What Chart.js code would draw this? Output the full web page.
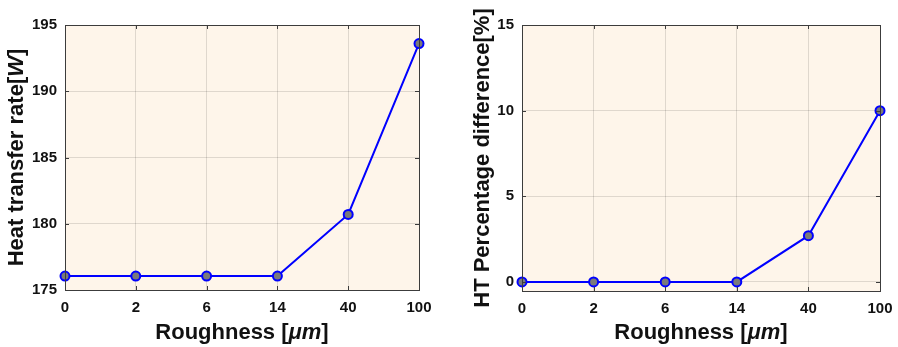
<!DOCTYPE html>
<html>
<head>
<meta charset="utf-8">
<script src="https://cdn.jsdelivr.net/npm/chart.js@4"></script>
<style>
  body { margin: 0; background: #fff; }
  .panel { position: absolute; top: 0; width: 449px; height: 347px; }
  #left { left: 0; }
  #right { left: 449px; }
</style>
</head>
<body>
<div class="panel" id="left"><canvas id="heat-chart"></canvas></div>
<div class="panel" id="right"><canvas id="diff-chart"></canvas></div>
<script>
// roughness values (shown as evenly spaced categories)
const roughness = ['0', '2', '6', '14', '40', '100']

// heat transfer rate [W]
const heatRate = [176.05, 176.05, 176.05, 176.05, 180.7, 193.6]
const heatTicks = [175, 180, 185, 190, 195]

// heat transfer percentage difference [%]
const htDiff = [0, 0, 0, 0, 2.7, 10.0]
const diffTicks = [0, 5, 10, 15]

const FONT = 'Liberation Sans, Arial, sans-serif'
const plotBg = '#fef5ea'
const frameColor = '#3c3c3c'

// fills the plot area, draws the box, inward ticks and the axis titles
const framePlugin = {
    id: 'frame',
    beforeDraw(chart) {
        const a = chart.chartArea
        const ctx = chart.ctx
        ctx.save()
        ctx.fillStyle = plotBg
        ctx.fillRect(a.left, a.top, a.right - a.left, a.bottom - a.top)
        ctx.restore()
    },
    afterDraw(chart, args, opts) {
        const a = chart.chartArea
        const ctx = chart.ctx
        const xs = chart.scales.x
        const ys = chart.scales.y
        ctx.save()
        ctx.strokeStyle = frameColor
        ctx.lineWidth = 1
        ctx.beginPath()
        xs.ticks.forEach((t, i) => {
            const px = Math.round(xs.getPixelForTick(i)) + 0.5
            ctx.moveTo(px, a.bottom); ctx.lineTo(px, a.bottom - 4)
            ctx.moveTo(px, a.top); ctx.lineTo(px, a.top + 4)
        })
        ys.ticks.forEach(t => {
            const py = Math.round(ys.getPixelForValue(t.value)) + 0.5
            ctx.moveTo(a.left, py); ctx.lineTo(a.left + 4, py)
            ctx.moveTo(a.right, py); ctx.lineTo(a.right - 4, py)
        })
        ctx.stroke()
        ctx.strokeRect(Math.round(a.left) + 0.5, Math.round(a.top) + 0.5,
            Math.round(a.right - a.left), Math.round(a.bottom - a.top))

        ctx.fillStyle = '#111'
        ctx.textBaseline = 'middle'
        drawRich(ctx, opts.xTitle, (a.left + a.right) / 2, 333, 0)
        drawRich(ctx, opts.yTitle, opts.yTitleX, (a.top + a.bottom) / 2, -Math.PI / 2)
        ctx.restore()
    }
}

// draws a centred title made of plain and italic pieces
function drawRich(ctx, parts, cx, cy, angle) {
    const fontOf = p => (p.italic ? 'italic ' : '') + 'bold 22px ' + FONT
    let total = 0
    parts.forEach(p => { ctx.font = fontOf(p); total += ctx.measureText(p.text).width })
    ctx.save()
    ctx.translate(cx, cy)
    ctx.rotate(angle)
    let x = -total / 2
    ctx.textAlign = 'left'
    parts.forEach(p => {
        ctx.font = fontOf(p)
        ctx.fillText(p.text, x, 0)
        x += ctx.measureText(p.text).width
    })
    ctx.restore()
}

const makeChart = (id, values, yTicks, yMin, yMax, cfg) => {
    return new Chart(id, {
        type: 'line',
        data: {
            labels: roughness,
            datasets: [{
                data: values,
                borderColor: '#0000ff',
                borderWidth: 2,
                pointBackgroundColor: '#7a7a7a',
                pointBorderColor: '#0000ff',
                pointBorderWidth: 2,
                pointRadius: 4.5,
                tension: 0,
                clip: false
            }]
        },
        options: {
            responsive: true,
            maintainAspectRatio: false,
            animation: false,
            layout: { padding: { top: 25, right: cfg.padRight, left: 0, bottom: 0 } },
            plugins: {
                legend: { display: false },
                tooltip: { enabled: false },
                frame: { xTitle: cfg.xTitle, yTitle: cfg.yTitle, yTitleX: cfg.yTitleX }
            },
            scales: {
                x: {
                    offset: false,
                    grid: { color: 'rgba(0,0,0,0.12)', drawTicks: false },
                    border: { display: false },
                    ticks: { color: '#111', padding: 9, font: { family: FONT, size: 15, weight: 'bold' } },
                    afterFit: s => {
                        s.height = cfg.xHeight
                        s.paddingLeft = 0
                        s.paddingRight = 0
                    }
                },
                y: {
                    min: yMin,
                    max: yMax,
                    grid: { color: 'rgba(0,0,0,0.12)', drawTicks: false },
                    border: { display: false },
                    ticks: { color: '#111', padding: 8, font: { family: FONT, size: 15, weight: 'bold' } },
                    afterBuildTicks: s => { s.ticks = yTicks.map(v => ({ value: v })) },
                    afterFit: s => {
                        s.width = cfg.yWidth
                        s.paddingTop = 0
                        s.paddingBottom = 0
                    }
                }
            }
        },
        plugins: [framePlugin]
    })
}

const roughTitle = [{ text: 'Roughness [' }, { text: 'μm', italic: true }, { text: ']' }]

makeChart('heat-chart', heatRate, heatTicks, 175, 195, {
    padRight: 30, yWidth: 65, xHeight: 57, yTitleX: 17,
    xTitle: roughTitle,
    yTitle: [{ text: 'Heat transfer rate[' }, { text: 'W', italic: true }, { text: ']' }]
})

makeChart('diff-chart', htDiff, diffTicks, -0.53, 15, {
    padRight: 18, yWidth: 73, xHeight: 56, yTitleX: 34,
    xTitle: roughTitle,
    yTitle: [{ text: 'HT Percentage difference[%]' }]
})
</script>
</body>
</html>
